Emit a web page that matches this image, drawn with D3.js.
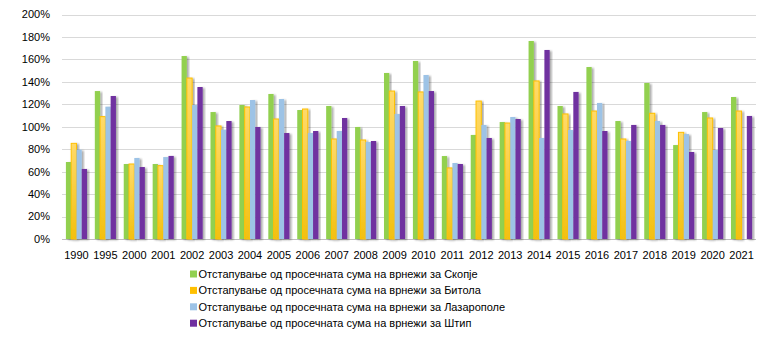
<!DOCTYPE html>
<html><head><meta charset="utf-8">
<script src="https://cdn.jsdelivr.net/npm/d3@7"></script>
<style>
html,body{margin:0;padding:0;background:#fff;}
svg{display:block;font-family:"Liberation Sans",Arial,sans-serif;}
</style></head>
<body><svg id="c" width="768" height="337"></svg>
<script>
const years = ["1990","1995","2000","2001","2002","2003","2004","2005","2006","2007","2008","2009","2010","2011","2012","2013","2014","2015","2016","2017","2018","2019","2020","2021"];
const seriesNames = [
  "Отстапување од просечната сума на врнежи за Скопје",
  "Отстапување од просечната сума на врнежи за Битола",
  "Отстапување од просечната сума на врнежи за Лазарополе",
  "Отстапување од просечната сума на врнежи за Штип"
];
const skopje     = [68.6,131.8,66.8,66.8,163.0,113.1,119.4,129.2,114.9,118.5,99.8,147.9,158.6,73.9,92.7,104.2,176.4,118.5,153.2,105.1,139.0,83.7,113.1,126.5];
const bitola     = [85.2,109.0,66.8,65.3,143.4,100.7,117.6,106.9,115.8,89.1,88.2,131.8,131.0,63.3,122.9,103.3,140.8,111.4,114.0,89.1,112.0,95.0,107.8,114.0];
const lazaropole = [79.6,117.9,72.2,73.0,119.4,97.4,123.8,124.7,94.4,96.2,86.4,111.4,146.1,67.7,101.6,108.7,90.0,97.1,121.2,87.3,105.1,93.5,79.3,null];
const stip       = [62.4,127.4,64.1,74.0,135.4,105.1,99.8,94.4,96.2,107.8,87.3,118.5,131.8,66.8,90.0,106.9,168.4,131.0,96.2,101.6,101.6,77.5,98.9,109.6];
const yTicks = [0,20,40,60,80,100,120,140,160,180,200];
const colors = ["#92D050","url(#gY)","#9DC3E6","#7030A0"];
const legendColors = ["#92D050","#FFC000","#9DC3E6","#7030A0"];
const allSeries = [skopje, bitola, lazaropole, stip];

const svg = d3.select("#c");
const defs = svg.append("defs");
const g1 = defs.append("linearGradient").attr("id","gY").attr("x1",0).attr("y1",0).attr("x2",0).attr("y2",1);
g1.append("stop").attr("offset","0%").attr("stop-color","#FFDA6A");
g1.append("stop").attr("offset","100%").attr("stop-color","#F2C010");
const f = defs.append("filter").attr("id","sh").attr("x","-50%").attr("y","-10%").attr("width","200%").attr("height","120%");
f.append("feGaussianBlur").attr("in","SourceAlpha").attr("stdDeviation",0.8).attr("result","b");
f.append("feOffset").attr("in","b").attr("dx",1.5).attr("dy",1).attr("result","o");
f.append("feComponentTransfer").attr("in","o").attr("result","o2").append("feFuncA").attr("type","linear").attr("slope",0.35);
const fm = f.append("feMerge"); fm.append("feMergeNode").attr("in","o2"); fm.append("feMergeNode").attr("in","SourceGraphic");

const x0 = d3.scaleBand().domain(years).range([62,756]).paddingInner(0.27).paddingOuter(0.135);
const x1 = d3.scaleBand().domain(d3.range(4)).range([0,x0.bandwidth()]).padding(0);
const y = d3.scaleLinear().domain([0,200]).range([239,14.5]);

// gridlines
svg.append("g").selectAll("line").data(yTicks).join("line")
  .attr("x1",62).attr("x2",756).attr("y1",d=>Math.round(y(d))+0.5).attr("y2",d=>Math.round(y(d))+0.5)
  .attr("stroke",d=>d===0?"#BFBFBF":"#D9D9D9").attr("stroke-width",1);

// y labels
svg.append("g").selectAll("text").data(yTicks).join("text")
  .attr("x",50).attr("y",d=>y(d)).attr("dy","0.35em").attr("text-anchor","end")
  .attr("font-size",11).attr("fill","#000").text(d=>d+"%");

// bars
const grp = svg.append("g").selectAll("g").data(years).join("g")
  .attr("transform",d=>`translate(${x0(d)},0)`);
grp.selectAll("rect").data((d,i)=>allSeries.map((s,k)=>({k,v:s[i]})).filter(o=>o.v!=null)).join("rect")
  .attr("x",d=>x1(d.k)).attr("width",x1.bandwidth())
  .attr("y",d=>y(d.v)).attr("height",d=>y(0)-y(d.v))
  .attr("fill",d=>colors[d.k])
  .attr("stroke",d=>d.k===1?"#FFC000":"none").attr("stroke-width",d=>d.k===1?1:0)
  .attr("filter","url(#sh)");

// x labels
svg.append("g").selectAll("text").data(years).join("text")
  .attr("x",d=>x0(d)+x0.bandwidth()/2).attr("y",259).attr("text-anchor","middle")
  .attr("font-size",11).attr("fill","#000").text(d=>d);

// legend
const lg = svg.append("g").selectAll("g").data(seriesNames).join("g")
  .attr("transform",(d,i)=>`translate(190,${274+i*16.4})`);
lg.append("rect").attr("x",0).attr("y",-3.5).attr("width",7).attr("height",7).attr("fill",(d,i)=>legendColors[i]);
lg.append("text").attr("x",8.5).attr("y",0).attr("dy","0.35em").attr("font-size",11).attr("fill","#000").text(d=>d);
</script></body></html>
